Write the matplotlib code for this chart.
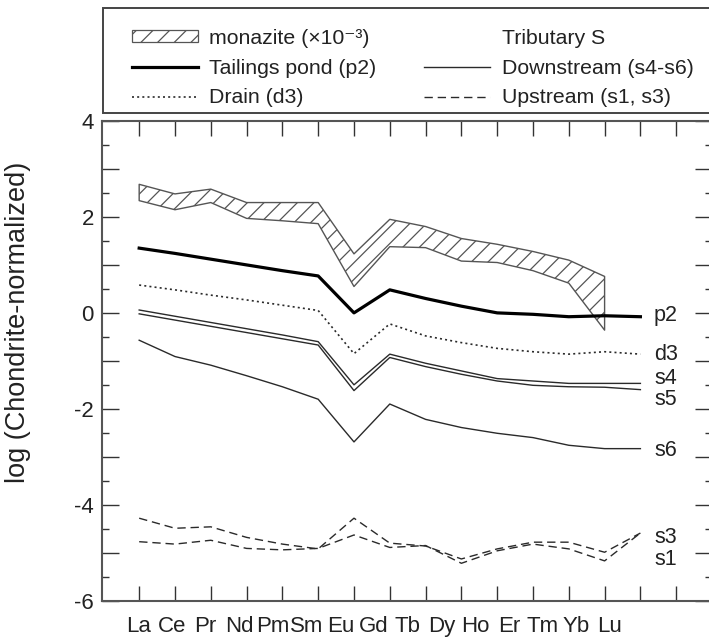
import matplotlib
matplotlib.use("Agg")
import matplotlib.pyplot as plt
from matplotlib.lines import Line2D
from matplotlib.patches import Patch, Rectangle
import numpy as np

# ---------------- data ----------------
elements = ['La', 'Ce', 'Pr', 'Nd', 'Pm', 'Sm', 'Eu', 'Gd', 'Tb', 'Dy',
            'Ho', 'Er', 'Tm', 'Yb', 'Lu']

# monazite (x10^-3) band, La..Yb
monazite_upper = [2.68, 2.48, 2.58, 2.30, 2.30, 2.30, 1.23, 1.95, 1.80, 1.55,
                  1.43, 1.28, 1.10, 0.76]
monazite_lower = [2.34, 2.15, 2.30, 1.97, 1.92, 1.86, 0.55, 1.38, 1.36, 1.08,
                  1.05, 0.88, 0.62, -0.36]

p2 = [1.35, 1.24, 1.12, 1.00, 0.88, 0.77, 0.00, 0.48, 0.30, 0.14, 0.00,
      -0.03, -0.08, -0.06, -0.08]
d3 = [0.58, 0.48, 0.37, 0.27, 0.16, 0.05, -0.85, -0.23, -0.48, -0.62, -0.74,
      -0.81, -0.86, -0.81, -0.86]
s4 = [0.06, -0.07, -0.20, -0.33, -0.46, -0.60, -1.50, -0.86, -1.05, -1.21,
      -1.37, -1.42, -1.47, -1.47, -1.47]
s5 = [-0.02, -0.15, -0.28, -0.41, -0.54, -0.67, -1.62, -0.93, -1.12, -1.28,
      -1.42, -1.51, -1.54, -1.55, -1.60]
s6 = [-0.57, -0.91, -1.09, -1.31, -1.54, -1.80, -2.69, -1.90, -2.22, -2.39,
      -2.51, -2.60, -2.76, -2.83, -2.83]
s3 = [-4.28, -4.49, -4.46, -4.68, -4.82, -4.92, -4.28, -4.80, -4.86, -5.13,
      -4.92, -4.78, -4.78, -4.99, -4.59]
s1 = [-4.77, -4.82, -4.74, -4.91, -4.94, -4.91, -4.63, -4.89, -4.85, -5.22,
      -4.96, -4.82, -4.92, -5.17, -4.59]

legend_labels = ['monazite (×10⁻³)', 'Tailings pond (p2)', 'Drain (d3)',
                 'Tributary S', 'Downstream (s4-s6)', 'Upstream (s1, s3)']
y_label = 'log (Chondrite-normalized)'

# ---------------- style ----------------
plt.rcParams['font.family'] = ['Liberation Sans', 'DejaVu Sans']
plt.rcParams['hatch.color'] = '#555555'
plt.rcParams['hatch.linewidth'] = 0.9

W, H = 709, 644
fig = plt.figure(figsize=(W / 100, H / 100), dpi=100)

ax_l, ax_r, ax_t, ax_b = 102.3, 712.0, 121.0, 600.7
ax = fig.add_axes([ax_l / W, 1 - ax_b / H, (ax_r - ax_l) / W, (ax_b - ax_t) / H])

x = np.arange(len(elements))
xm = x[:len(monazite_upper)]

line_col = '#2a2a2a'
ax.fill_between(xm, monazite_lower, monazite_upper, facecolor='white',
                edgecolor='#555555', hatch='//', linewidth=1.0, zorder=2)
ax.plot(x, p2, color='black', lw=2.3, zorder=3)
ax.plot(x, d3, color=line_col, lw=1.2, linestyle=(0, (1.2, 1.9)), zorder=3)
for s in (s4, s5, s6):
    ax.plot(x, s, color=line_col, lw=1.0, zorder=3)
for s in (s3, s1):
    ax.plot(x, s, color=line_col, lw=1.0, linestyle=(0, (6, 3.5)), zorder=3)

# end-of-line labels
label_x = len(elements) - 1 + 0.38
end_labels = [('p2', p2[-1] + 0.03), ('d3', d3[-1]), ('s4', s4[-1] + 0.10),
              ('s5', s5[-1] - 0.21), ('s6', s6[-1] - 0.03),
              ('s3', s3[-1] - 0.09), ('s1', s1[-1] - 0.55)]
for name, yv in end_labels:
    ax.text(label_x, yv, name, fontsize=15.5, color='#222222',
            ha='left', va='center')

ax.set_xlim(-1.03, 16.0)
ax.set_ylim(-6, 4)
# tick marks at every element (plus one extra); names are typeset slightly
# tighter than the tick spacing, as in the original figure
ax.set_xticks(np.arange(len(elements) + 1))
ax.set_xticklabels([''] * (len(elements) + 1))
label_pos = x * (33.7 / 35.8) - 0.03
ax.set_xticks(label_pos, labels=elements, minor=True)
ax.set_yticks(np.arange(-6, 5, 1))
ax.set_yticklabels([str(v) if v % 2 == 0 else '' for v in range(-6, 5)])
ax.set_yticks(np.arange(-5.5, 4, 1), minor=True)

spine_col = '#555555'
for sp in ax.spines.values():
    sp.set_color(spine_col)
    sp.set_linewidth(1.5)

ax.tick_params(axis='x', which='major', direction='in', length=10.5,
               width=1.0, color='#333333', top=True, bottom=True)
ax.tick_params(axis='x', which='minor', length=0, top=False, bottom=True,
               labelsize=16, labelcolor='#222222', pad=11)
ax.tick_params(axis='y', which='major', direction='in', length=12,
               width=1.0, color='#333333', left=True, right=True,
               labelsize=16, labelcolor='#222222', pad=6)
ax.tick_params(axis='y', which='minor', direction='in', length=5,
               width=1.0, color='#333333', left=True, right=True)

ax.set_ylabel(y_label, fontsize=19.5, color='#222222')
ax.yaxis.set_label_coords(-0.117, 0.58)

# ---------------- legend ----------------
fig.patches.append(Rectangle((103 / W, 1 - 113.3 / H), (712 - 103) / W,
                             (113.3 - 8.3) / H, transform=fig.transFigure,
                             facecolor='white', edgecolor='#444444',
                             linewidth=1.4, clip_on=False, zorder=0))
handles = [
    Patch(facecolor='white', edgecolor='#555555', hatch='//', linewidth=0.9),
    Line2D([], [], color='black', lw=2.3),
    Line2D([], [], color=line_col, lw=1.2, linestyle=(0, (1.2, 1.9))),
    Line2D([], [], color='none'),
    Line2D([], [], color=line_col, lw=1.0),
    Line2D([], [], color=line_col, lw=1.0, linestyle=(0, (6, 3.5))),
]
fig.legend(handles, legend_labels, loc='upper left',
           bbox_to_anchor=(131.7 / W, 1 - 28.7 / H), ncol=2, frameon=False,
           fontsize=15.3, handlelength=3.1, handleheight=0.5,
           handletextpad=0.55, columnspacing=2.25, labelspacing=0.51,
           borderpad=0, borderaxespad=0, labelcolor='#222222')

fig.savefig('out.png', dpi=100)
